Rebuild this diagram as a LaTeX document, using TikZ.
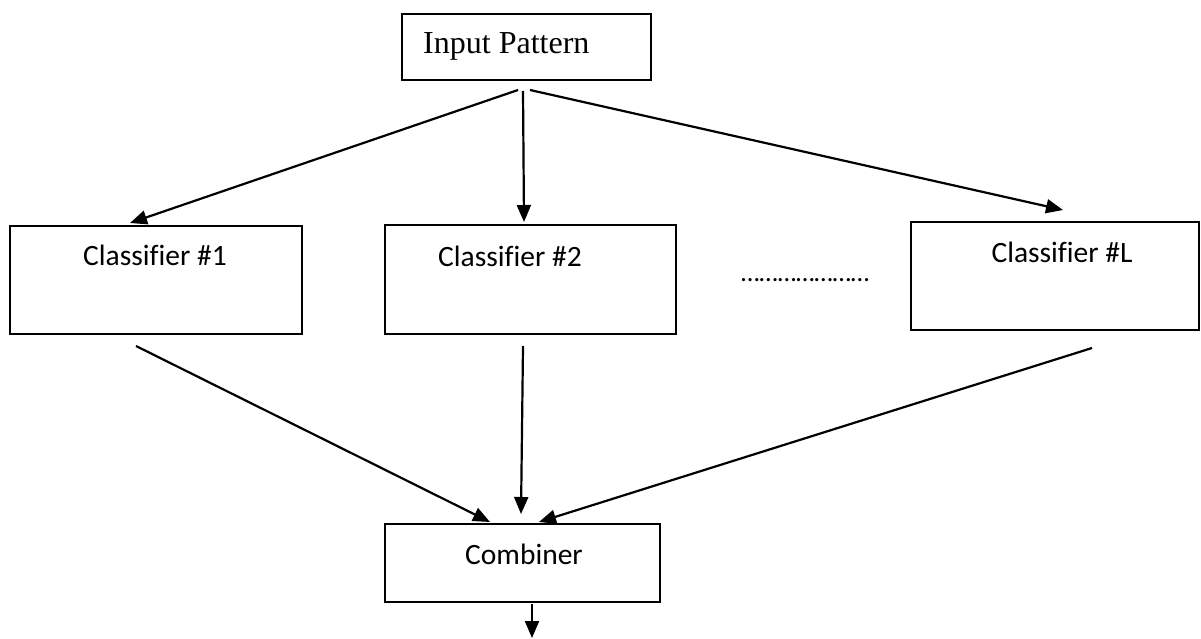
\documentclass[tikz,border=0pt]{standalone}
\usepackage{fontspec}
\setmainfont{Carlito}[Ligatures=NoCommon]
\newfontfamily\serifface{Liberation Serif}
\usetikzlibrary{arrows.meta}
\begin{document}
\begin{tikzpicture}[x=1pt,y=-1pt,
  box/.style={draw, line width=2pt, inner sep=0pt},
  conn/.style={line width=2.2pt, -{Triangle[length=17pt,width=14pt]}},
  lbl/.style={font=\fontsize{29.5}{35}\selectfont, inner sep=0pt, anchor=base}]
\useasboundingbox (0,0) rectangle (1201,639);

% boxes
\node[box, minimum width=249pt, minimum height=66pt] (inp) at (526.5,47) {};
\node[box, minimum width=292pt, minimum height=108pt] (c1) at (156,280) {};
\node[box, minimum width=291pt, minimum height=109pt] (c2) at (530.5,279.5) {};
\node[box, minimum width=288pt, minimum height=108pt] (cL) at (1055,276) {};
\node[box, minimum width=275pt, minimum height=78pt] (comb) at (522.5,563) {};

% texts
\node[inner sep=0pt, anchor=base west, font=\serifface\fontsize{32}{38}\selectfont] (tinp) at (423,54) {Input Pattern};
\node[lbl] (tc1) at (155,265) {Classifier \#1};
\node[lbl] (tc2) at (510,266) {Classifier \#2};
\node[lbl] (tcL) at (1062,262) {Classifier \#L};
\node[lbl] (tcomb) at (524,564) {Combiner};
\node[lbl, anchor=base west, font=\fontsize{26.5}{32}\selectfont] (dots) at (741,281) {…………………};

% connector ends
\coordinate (i1) at (518,90);
\coordinate (i2) at (523,91);
\coordinate (i3) at (530,90);
\coordinate (t1) at (130,223);
\coordinate (t2) at (524,222);
\coordinate (t3) at (1063,210);
\coordinate (s1) at (136,346);
\coordinate (s2) at (523,346);
\coordinate (s3) at (1092,348);
\coordinate (u1) at (490,522);
\coordinate (u2) at (521,514);
\coordinate (u3) at (539,522);
\coordinate (o1) at (532,604);
\coordinate (o2) at (532,638);

\draw[conn] (i1) -- (t1);
\draw[conn] (i2) -- (t2);
\draw[conn] (i3) -- (t3);
\draw[conn] (s1) -- (u1);
\draw[conn] (s2) -- (u2);
\draw[conn] (s3) -- (u3);
\draw[conn] (o1) -- (o2);
\end{tikzpicture}
\end{document}
